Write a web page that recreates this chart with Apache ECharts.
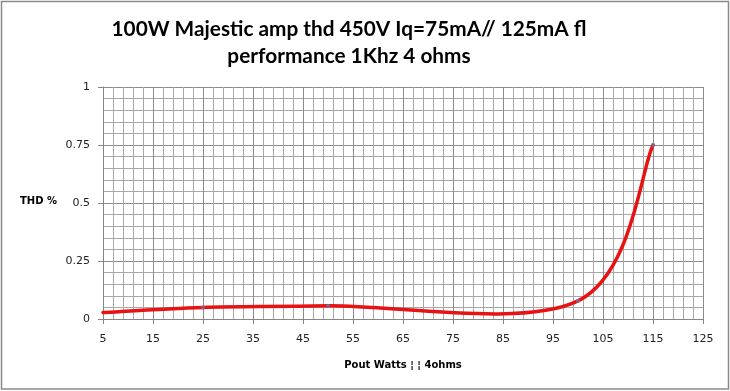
<!DOCTYPE html>
<html><head><meta charset="utf-8">
<script src="https://cdn.jsdelivr.net/npm/echarts@6/dist/echarts.min.js"></script>
<style>html,body{margin:0;padding:0;background:#fff}#c{width:730px;height:391px}</style>
</head><body><div id="c"></div>
<script>
const titleLines = ['100W Majestic amp thd 450V Iq=75mA// 125mA fl', 'performance 1Khz 4 ohms'];
const xAxisTitle = 'Pout Watts \u00A6 \u00A6 4ohms';
const yAxisTitle = 'THD %';
const xTickLabels = [5, 15, 25, 35, 45, 55, 65, 75, 85, 95, 105, 115, 125];
const yTickLabels = [0, 0.25, 0.5, 0.75, 1];
const watts = [5, 25, 50, 100, 115];
const thd = [0.028, 0.05, 0.057, 0.078, 0.75];

const pairs = watts.map((w, i) => [w, thd[i]]);
const LINE = '#e81212';

function renderCurve(params, api) {
  if (params.dataIndex !== 0) return null;
  const pts = pairs.map(p => api.coord(p));
  const n = pts.length;
  const children = [];
  for (let i = 0; i < n - 1; i++) {
    const p0 = pts[Math.max(i - 1, 0)], p1 = pts[i], p2 = pts[i + 1], p3 = pts[Math.min(i + 2, n - 1)];
    children.push({
      type: 'bezierCurve',
      shape: {
        x1: p1[0], y1: p1[1], x2: p2[0], y2: p2[1],
        cpx1: p1[0] + (p2[0] - p0[0]) / 6, cpy1: p1[1] + (p2[1] - p0[1]) / 6,
        cpx2: p2[0] - (p3[0] - p1[0]) / 6, cpy2: p2[1] - (p3[1] - p1[1]) / 6
      },
      style: { stroke: LINE, lineWidth: 3.5, fill: 'none', lineCap: 'round' }
    });
  }
  return { type: 'group', children };
}

const chart = echarts.init(document.getElementById('c'), null, { renderer: 'canvas' });
const labelFont = { fontFamily: 'DejaVu Sans', fontSize: 11, color: '#222' };
chart.setOption({
  animation: false,
  backgroundColor: '#fff',
  title: {
    text: titleLines.join('\n'),
    left: 344, top: 11, textAlign: 'center',
    textStyle: { fontFamily: 'Lato', fontWeight: 'bold', fontSize: 20.8, lineHeight: 27, color: '#000' }
  },
  grid: { left: 103, right: 27, top: 87, bottom: 72, containLabel: false, outerBoundsMode: 'none' },
  xAxis: {
    type: 'value',
    min: xTickLabels[0], max: xTickLabels[xTickLabels.length - 1], interval: 10,
    name: xAxisTitle, nameLocation: 'middle', nameGap: 41,
    nameTextStyle: { fontFamily: 'DejaVu Sans', fontWeight: 'bold', fontSize: 10, color: '#000' },
    axisLine: { show: true, onZero: false, lineStyle: { color: '#868686', width: 1 } },
    axisTick: { show: true, length: 5, inside: false, lineStyle: { color: '#868686' } },
    axisLabel: Object.assign({ margin: 15 }, labelFont),
    splitLine: { show: true, lineStyle: { color: '#8c8c8c', width: 1 } },
    minorTick: { show: false, splitNumber: 5 },
    minorSplitLine: { show: true, lineStyle: { color: '#a8a8a8', width: 1 } }
  },
  yAxis: {
    type: 'value',
    min: yTickLabels[0], max: yTickLabels[yTickLabels.length - 1], interval: 0.25,
    axisLine: { show: true, lineStyle: { color: '#868686', width: 1 } },
    axisTick: { show: true, length: 5, inside: false, lineStyle: { color: '#868686' } },
    axisLabel: Object.assign({ margin: 13 }, labelFont),
    splitLine: { show: true, lineStyle: { color: '#8c8c8c', width: 1 } },
    minorTick: { show: false, splitNumber: 5 },
    minorSplitLine: { show: true, lineStyle: { color: '#a8a8a8', width: 1 } }
  },
  graphic: [
    { type: 'rect', silent: true, z: 100,
      shape: { x: 1.5, y: 1.5, width: 727, height: 387.5 },
      style: { fill: 'none', stroke: '#8a8a8a', lineWidth: 1.5 } },
    { type: 'text', left: 20, top: 196, z: 100,
      style: { text: yAxisTitle, fontFamily: 'DejaVu Sans', fontWeight: 'bold', fontSize: 10, fill: '#000' } }
  ],
  series: [
    { type: 'custom', coordinateSystem: 'cartesian2d', data: pairs, encode: { x: 0, y: 1 },
      renderItem: renderCurve, z: 3, clip: false },
    { type: 'scatter', data: pairs, z: 4,
      symbolSize: (v, p) => (p.dataIndex === 0 ? 0 : 4),
      itemStyle: { color: '#7d6b9a', opacity: 0.85 } }
  ]
});
</script></body></html>
